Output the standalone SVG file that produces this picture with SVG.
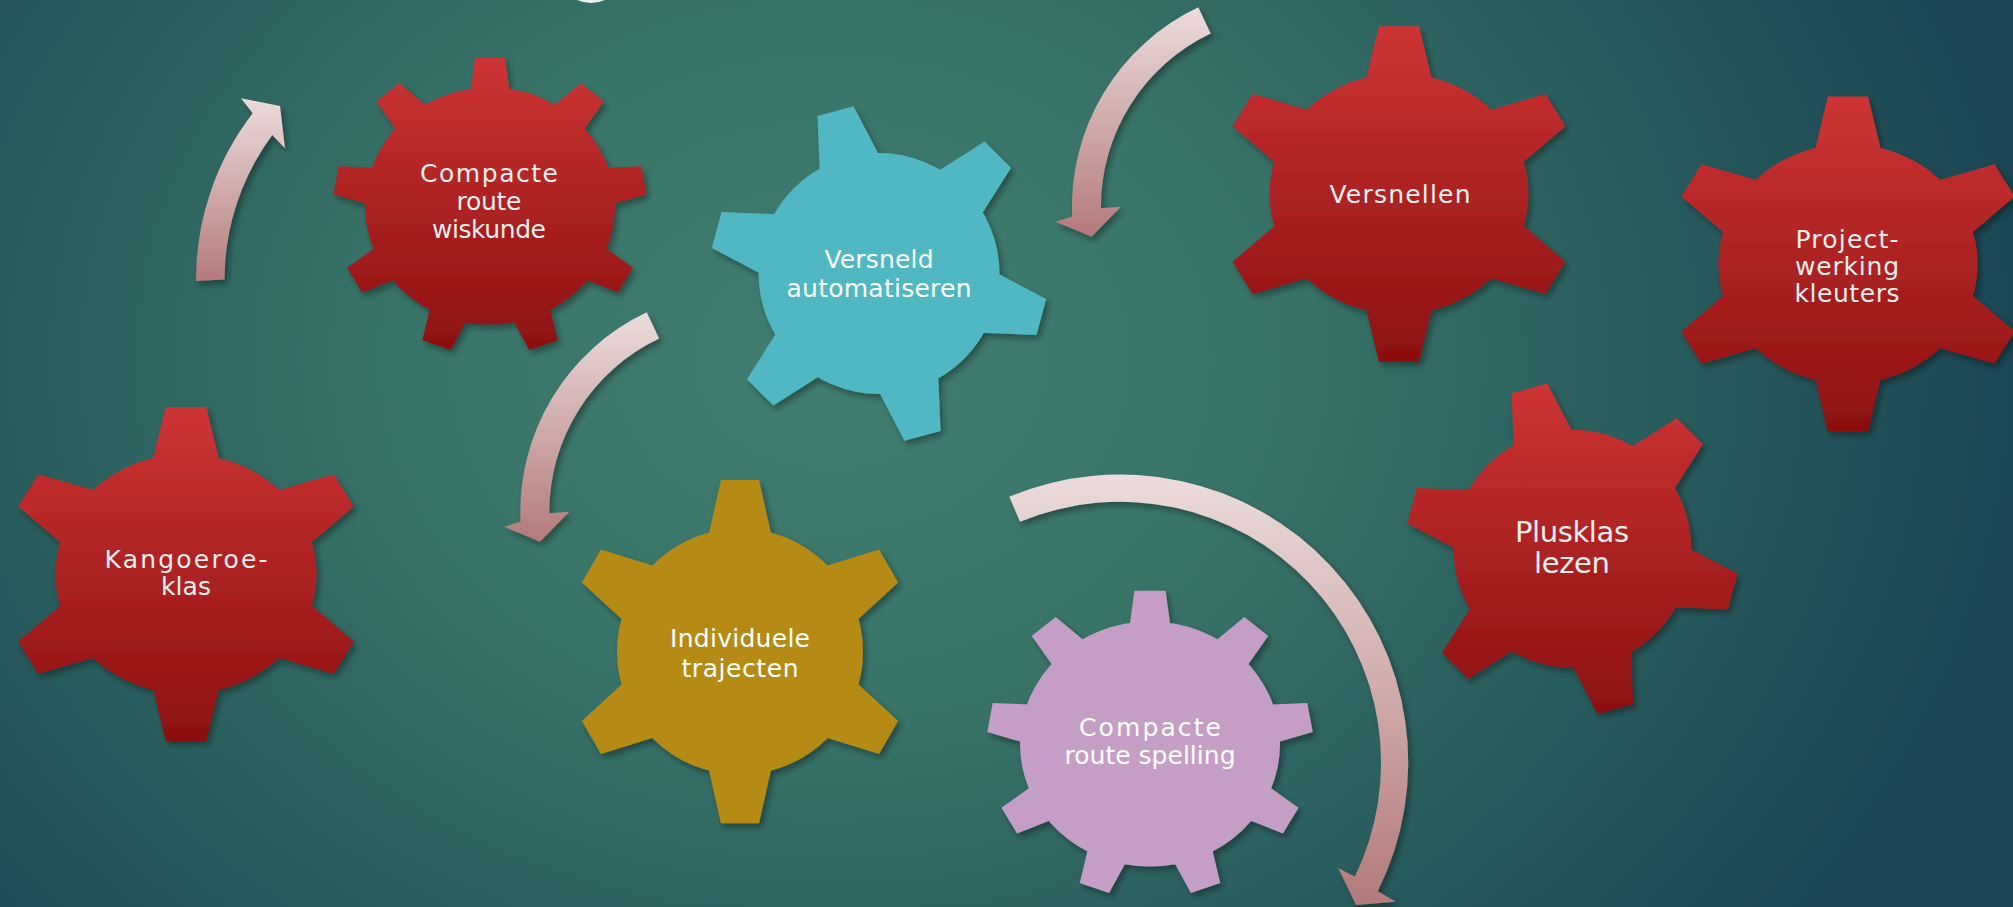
<svg xmlns="http://www.w3.org/2000/svg" width="2013" height="907" viewBox="0 0 2013 907">
  <defs>
    <radialGradient id="bg" gradientUnits="userSpaceOnUse" cx="830" cy="360" r="1200" gradientTransform="translate(830,360) scale(1,0.8) translate(-830,-360)">
      <stop offset="0" stop-color="#427d71"/>
      <stop offset="0.35" stop-color="#397468"/>
      <stop offset="0.7" stop-color="#295c5d"/>
      <stop offset="1" stop-color="#1b4553"/>
    </radialGradient>
    <linearGradient id="red" x1="0" y1="0" x2="0" y2="1">
      <stop offset="0" stop-color="#cd3434"/>
      <stop offset="1" stop-color="#8c1010"/>
    </linearGradient>
    <linearGradient id="arrowFill" x1="0" y1="0" x2="0" y2="1">
      <stop offset="0" stop-color="#ecdcdc"/>
      <stop offset="1" stop-color="#b37a7a"/>
    </linearGradient>
    <filter id="sh" x="-20%" y="-20%" width="140%" height="140%">
      <feDropShadow dx="3" dy="4" stdDeviation="3" flood-color="#000" flood-opacity="0.35"/>
    </filter>
    <path id="g6" d="M100,0 A100,100 0 1 1 -100,0 A100,100 0 1 1 100,0 Z
      M-26.6,-90 L-15.5,-139.5 L15.5,-139.5 L26.6,-90 Z
      M64.64,-68.04 L113.06,-83.17 L128.56,-56.33 L91.24,-21.96 Z
      M91.24,21.96 L128.56,56.33 L113.06,83.17 L64.64,68.04 Z
      M26.6,90 L15.5,139.5 L-15.5,139.5 L-26.6,90 Z
      M-64.64,68.04 L-113.06,83.17 L-128.56,56.33 L-91.24,21.96 Z
      M-91.24,-21.96 L-128.56,-56.33 L-113.06,-83.17 L-64.64,-68.04 Z"/>
    <path id="g6r" d="M100,0 A100,100 0 1 1 -100,0 A100,100 0 1 1 100,0 Z
      M-48.98,-80.05 L-51.07,-130.73 L-21.13,-138.75 L2.40,-93.81 Z
      M44.83,-82.45 L87.68,-109.60 L109.60,-87.68 L82.45,-44.83 Z
      M93.81,-2.40 L138.75,21.13 L130.73,51.07 L80.05,48.98 Z
      M48.98,80.05 L51.07,130.73 L21.13,138.75 L-2.40,93.81 Z
      M-44.83,82.45 L-87.68,109.60 L-109.60,87.68 L-82.45,44.83 Z
      M-93.81,2.40 L-138.75,-21.13 L-130.73,-51.07 L-80.05,-48.98 Z"/>
    <path id="g9" d="M100,0 A100,100 0 1 1 -100,0 A100,100 0 1 1 100,0 Z
      M-16.5,-90 L-12,-125 L12,-125 L16.5,-90 Z
      M45.44,-79.79 L72.56,-103.58 L90.96,-88.15 L70.72,-57.66 Z
      M85.77,-31.90 L121.01,-33.51 L125.18,-9.88 L91.50,0.66 Z
      M86.19,30.71 L114.25,52.10 L102.25,72.90 L69.69,59.29 Z
      M46.29,78.93 L54.03,113.36 L31.47,121.57 L15.27,90.20 Z
      M-15.27,90.20 L-31.47,121.57 L-54.03,113.36 L-46.29,78.93 Z
      M-69.69,59.29 L-102.25,72.90 L-114.25,52.10 L-86.19,30.71 Z
      M-91.50,0.66 L-125.18,-9.88 L-121.01,-33.51 L-85.77,-31.90 Z
      M-70.72,-57.66 L-90.96,-88.15 L-72.56,-103.58 L-45.44,-79.79 Z"/>
  </defs>
  <style>
    .lbl { font-family: "DejaVu Sans", "Liberation Sans", sans-serif; font-size: 25px; fill: #ffffff; text-anchor: middle; }
    .lblr { fill: #f6eeee; }
    .big { font-size: 29px; }
    .arrow { fill: url(#arrowFill); filter: url(#sh); }
    .red { fill: url(#red); }
  </style>

  <rect x="0" y="0" width="2013" height="907" fill="url(#bg)"/>
  <path d="M577,0 Q591,6 605,0 Z" fill="#f0f0f0"/>

  <g id="connectors">
    <path class="arrow" d="M196,281 A272,272 0 0 1 252.7,113.3 L241,98.3 L280,106 L285,148.3 L272.3,135 A243.5,243.5 0 0 0 224.5,279.5 Z"/>
    <path class="arrow" d="M1198.3,7.3 A221,221 0 0 0 1072.1,216.6 L1055.6,221.7 L1091.6,236.7 L1120.9,206.7 L1100.9,208.3 A192,192 0 0 1 1210.7,33.5 Z"/>
    <path class="arrow" d="M646.7,312.3 A221,221 0 0 0 520.5,521.6 L504,526.7 L540,541.7 L569.3,511.7 L549.3,513.3 A192,192 0 0 1 659.1,338.5 Z"/>
    <path class="arrow" d="M1009.3,496.7 A288,288 0 0 1 1377.8,891.3 L1396,901.7 L1356,905 L1338.3,868.3 L1354.9,876.6 A261,261 0 0 0 1020,521.7 Z"/>
  </g>

  <g id="node-compacte-route-wiskunde">
    <g filter="url(#sh)"><use href="#g9" class="red" transform="translate(490,206) scale(1.25,1.185)"/></g>
    <text class="lbl lblr" x="489" y="181.7" textLength="138">Compacte</text>
    <text class="lbl lblr" x="489" y="210" textLength="65">route</text>
    <text class="lbl lblr" x="489" y="238.3" textLength="114">wiskunde</text>
  </g>

  <g id="node-versneld-automatiseren">
    <g filter="url(#sh)"><use href="#g6r" fill="#50b8c2" transform="translate(879,273.5) scale(1.205)"/></g>
    <text class="lbl" x="879" y="268.3" textLength="109">Versneld</text>
    <text class="lbl" x="879" y="296.7" textLength="185">automatiseren</text>
  </g>

  <g id="node-versnellen">
    <g filter="url(#sh)"><use href="#g6" class="red" transform="translate(1399,194) scale(1.295,1.203)"/></g>
    <text class="lbl lblr" x="1400" y="202.7" textLength="141">Versnellen</text>
  </g>

  <g id="node-projectwerking-kleuters">
    <g filter="url(#sh)"><use href="#g6" class="red" transform="translate(1848,264) scale(1.296,1.2)"/></g>
    <text class="lbl lblr" x="1847" y="248.3" textLength="103">Project-</text>
    <text class="lbl lblr" x="1847" y="275" textLength="104">werking</text>
    <text class="lbl lblr" x="1847" y="301.7" textLength="105">kleuters</text>
  </g>

  <g id="node-kangoeroeklas">
    <g filter="url(#sh)"><use href="#g6" class="red" transform="translate(186,574) scale(1.306,1.198)"/></g>
    <text class="lbl lblr" x="186" y="568.3" textLength="163">Kangoeroe-</text>
    <text class="lbl lblr" x="186" y="595" textLength="50">klas</text>
  </g>

  <g id="node-individuele-trajecten">
    <g filter="url(#sh)"><use href="#g6" fill="#b58b16" transform="translate(740,651.7) scale(1.23)"/></g>
    <text class="lbl" x="740" y="646.7" textLength="140">Individuele</text>
    <text class="lbl" x="740" y="676.7" textLength="117">trajecten</text>
  </g>

  <g id="node-compacte-route-spelling">
    <g filter="url(#sh)"><use href="#g9" fill="#c49ec5" transform="translate(1150,744) scale(1.3,1.226)"/></g>
    <text class="lbl" x="1150" y="736" textLength="142">Compacte</text>
    <text class="lbl" x="1150" y="764" textLength="171">route spelling</text>
  </g>

  <g id="node-plusklas-lezen">
    <g filter="url(#sh)"><use href="#g6r" class="red" transform="translate(1572.4,548.7) scale(1.19)"/></g>
    <text class="lbl lblr big" x="1572" y="541.7" textLength="114">Plusklas</text>
    <text class="lbl lblr big" x="1572" y="573.3" textLength="76">lezen</text>
  </g>
</svg>
